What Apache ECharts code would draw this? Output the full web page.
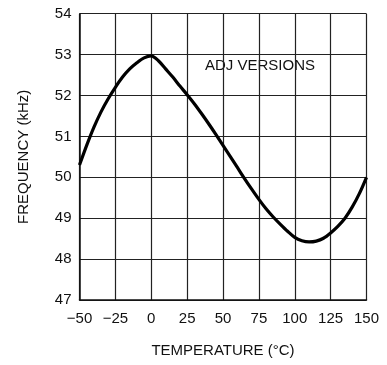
<!DOCTYPE html>
<html>
<head>
<meta charset="utf-8">
<script src="https://cdn.jsdelivr.net/npm/echarts@6/dist/echarts.min.js"></script>
<style>
  html, body { margin: 0; padding: 0; background: #fff; }
  #chart { width: 387px; height: 365px; }
</style>
</head>
<body>
<div id="chart"></div>
<script>
// Oscillator frequency vs. temperature, adjustable versions
const temperatures = [-50, -45, -40, -35, -30, -25, -20, -15, -10, -5, 0, 5, 10, 15, 20, 25, 30, 35, 40, 45, 50,
  55, 60, 65, 70, 75, 80, 85, 90, 95, 100, 105, 110, 115, 120, 125, 130, 135, 140, 145, 150];
const frequencyKHz = [50.3, 50.78, 51.22, 51.6, 51.92, 52.2, 52.45, 52.65, 52.8, 52.92, 52.97, 52.85, 52.65, 52.45, 52.23, 52.02,
  51.8, 51.56, 51.31, 51.05, 50.78, 50.51, 50.24, 49.97, 49.71, 49.46, 49.23, 49.03, 48.85, 48.68, 48.53,
  48.45, 48.42, 48.44, 48.51, 48.64, 48.8, 49.0, 49.27, 49.6, 50.0];
const xTicks = { min: -50, max: 150, step: 25 };
const yTicks = { min: 47, max: 54, step: 1 };
const curveLabel = 'ADJ VERSIONS';

const FONT = '"Liberation Sans", "DejaVu Sans", sans-serif';
const chart = echarts.init(document.getElementById('chart'), null, { renderer: 'canvas' });

chart.setOption({
  backgroundColor: '#ffffff',
  animation: false,
  grid: { left: 79.5, right: 20.5, top: 13.7, bottom: 65, containLabel: false },
  xAxis: {
    type: 'value',
    min: xTicks.min, max: xTicks.max, interval: xTicks.step,
    name: 'TEMPERATURE (°C)',
    nameLocation: 'middle', nameGap: 43,
    nameTextStyle: { color: '#111', fontFamily: FONT, fontSize: 15 },
    axisLine: { show: true, onZero: false, lineStyle: { color: '#111', width: 1.5 } },
    axisTick: { show: false },
    axisLabel: { color: '#111', fontFamily: FONT, fontSize: 15, margin: 11,
      formatter: v => (v < 0 ? '\u2212' + Math.abs(v) : String(v)) },
    splitLine: { show: true, lineStyle: { color: '#222', width: 1.2 } }
  },
  yAxis: {
    type: 'value',
    min: yTicks.min, max: yTicks.max, interval: yTicks.step,
    name: 'FREQUENCY (kHz)',
    nameLocation: 'middle', nameGap: 48, nameRotate: 90,
    nameTextStyle: { color: '#111', fontFamily: FONT, fontSize: 15 },
    axisLine: { show: true, onZero: false, lineStyle: { color: '#111', width: 1.5 } },
    axisTick: { show: false },
    axisLabel: { color: '#111', fontFamily: FONT, fontSize: 15, margin: 8 },
    splitLine: { show: true, lineStyle: { color: '#222', width: 1.2 } }
  },
  graphic: [{
    type: 'text',
    left: 205, top: 58,
    style: { text: curveLabel, fill: '#111', font: '15px ' + FONT }
  }],
  series: [{
    type: 'line',
    data: temperatures.map((t, i) => [t, frequencyKHz[i]]),
    smooth: 0.3,
    showSymbol: false,
    lineStyle: { color: '#000', width: 3.2 }
  }]
});
</script>
</body>
</html>
